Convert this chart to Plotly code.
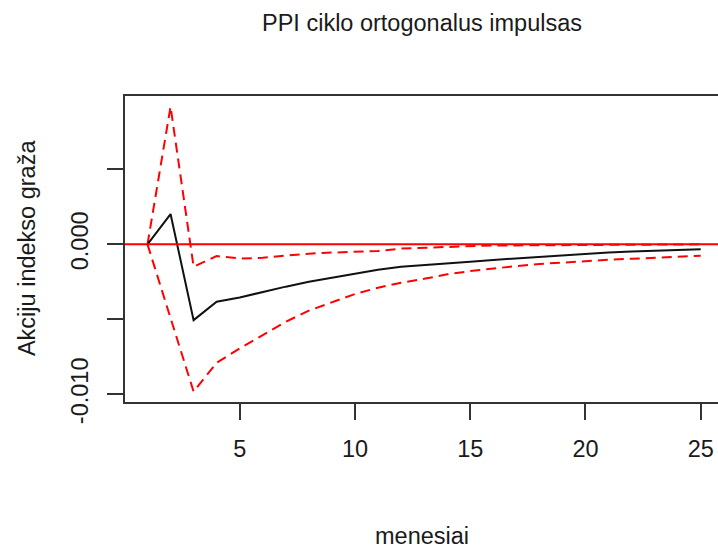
import plotly.graph_objects as go

months = list(range(1, 26))
irf = [0.0, 0.00202, -0.00505, -0.00382, -0.00354, -0.00316, -0.00282, -0.00250,
       -0.00222, -0.00196, -0.00170, -0.00150, -0.00140, -0.00128, -0.00116,
       -0.00104, -0.00093, -0.00082, -0.00072, -0.00062, -0.00054, -0.00047,
       -0.00041, -0.00036, -0.00032]
upper = [0.0, 0.00918, -0.00149, -0.00078, -0.00094, -0.00090, -0.00075, -0.00062,
         -0.00055, -0.00050, -0.00044, -0.00028, -0.00022, -0.00020, -0.00010,
         -0.00007, -0.00007, -0.00006, -0.00005, -0.00002, -0.00001, 0.0, 0.0,
         0.0, 0.0]
lower = [0.0, -0.0049, -0.00982, -0.00790, -0.00694, -0.00605, -0.00516, -0.00442,
         -0.00389, -0.00331, -0.00289, -0.00256, -0.00230, -0.00200, -0.00178,
         -0.00160, -0.00145, -0.00131, -0.00120, -0.00111, -0.00103, -0.00096,
         -0.00089, -0.00082, -0.00076]

x_ticks = [5, 10, 15, 20, 25]
y_ticks = [-0.010, -0.005, 0.0, 0.005]
y_ticktext = ["-0.010", "", "0.000", ""]

title_text = "PPI ciklo ortogonalus impulsas"
x_title = "menesiai"
y_title = "Akciju indekso graža"

FONT = "Liberation Sans, Arial, sans-serif"
TXT = "#1a1a1a"
AX = "#333333"

fig = go.Figure()
fig.add_trace(go.Scatter(x=months, y=upper, mode="lines",
                         line=dict(color="#ff0000", width=2, dash="10px,6px"),
                         showlegend=False))
fig.add_trace(go.Scatter(x=months, y=lower, mode="lines",
                         line=dict(color="#ff0000", width=2, dash="10px,6px"),
                         showlegend=False))
fig.add_trace(go.Scatter(x=months, y=irf, mode="lines",
                         line=dict(color="#111111", width=2),
                         showlegend=False))
fig.add_hline(y=0, line=dict(color="#ff0000", width=2))

fig.update_layout(
    width=718, height=548, autosize=False,
    margin=dict(l=125, r=0, t=96, b=146, pad=0),
    paper_bgcolor="white", plot_bgcolor="white",
    font=dict(family=FONT, size=23.5, color=TXT),
    xaxis=dict(range=[0.024, 25.75], tickvals=x_ticks, ticks="outside",
               ticklen=16, tickwidth=2, tickcolor=AX, showline=True,
               linecolor=AX, linewidth=2, mirror=True, showgrid=False,
               zeroline=False, ticklabelstandoff=9,
               tickfont=dict(family=FONT, size=23.5, color=TXT)),
    yaxis=dict(range=[-0.01051, 0.00989], tickvals=y_ticks, ticktext=y_ticktext,
               tickangle=-90, ticks="outside", ticklen=16, tickwidth=2,
               tickcolor=AX, showline=True, linecolor=AX, linewidth=2,
               mirror=False, showgrid=False, zeroline=False,
               ticklabelstandoff=10,
               tickfont=dict(family=FONT, size=23.5, color=TXT)),
    annotations=[
        dict(text=title_text, xref="paper", yref="paper", x=0.5, y=1.2386,
             xanchor="center", yanchor="middle", showarrow=False,
             font=dict(family=FONT, size=23.5, color=TXT)),
        dict(text=x_title, xref="paper", yref="paper", x=0.5, y=-0.438,
             xanchor="center", yanchor="middle", showarrow=False,
             font=dict(family=FONT, size=23.5, color=TXT)),
        dict(text=y_title, xref="paper", yref="paper", x=-0.1653, y=0.503,
             xanchor="center", yanchor="middle", textangle=-90, showarrow=False,
             font=dict(family=FONT, size=23.5, color=TXT)),
    ],
)

fig.write_html("out.html")
